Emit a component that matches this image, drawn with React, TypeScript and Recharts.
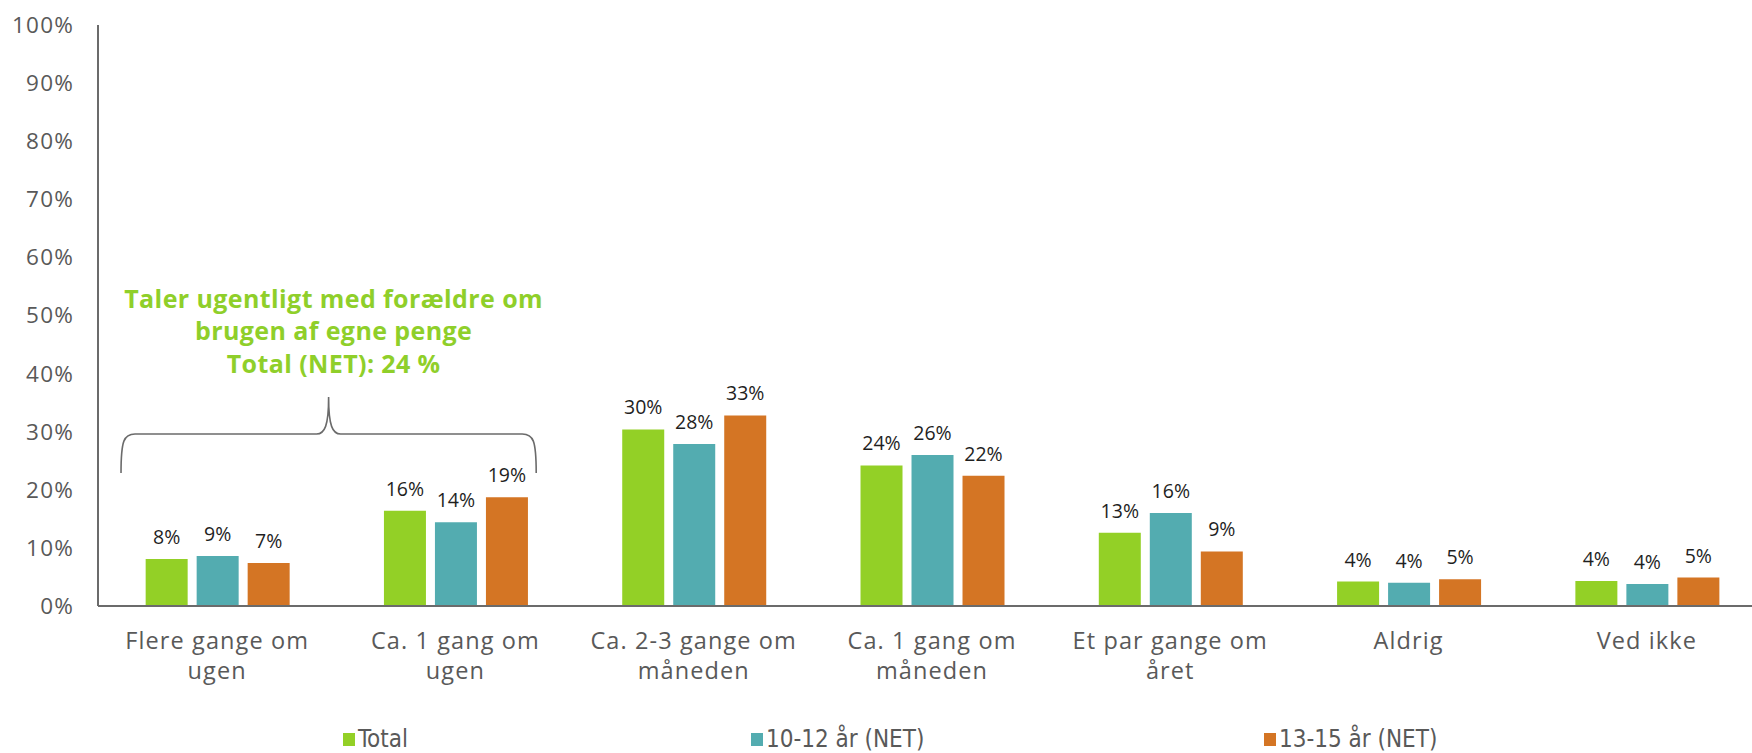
import React from 'react';
import { BarChart, Bar, XAxis, YAxis, LabelList } from 'recharts';

const categories = [
  'Flere gange om ugen',
  'Ca. 1 gang om ugen',
  'Ca. 2-3 gange om måneden',
  'Ca. 1 gang om måneden',
  'Et par gange om året',
  'Aldrig',
  'Ved ikke',
];
const categoryLines = [
  ['Flere gange om', 'ugen'],
  ['Ca. 1 gang om', 'ugen'],
  ['Ca. 2-3 gange om', 'måneden'],
  ['Ca. 1 gang om', 'måneden'],
  ['Et par gange om', 'året'],
  ['Aldrig'],
  ['Ved ikke'],
];
const totalValues = [8.1, 16.4, 30.4, 24.2, 12.6, 4.2, 4.3];
const age1012Values = [8.6, 14.4, 27.9, 26.0, 16.0, 4.0, 3.8];
const age1315Values = [7.4, 18.7, 32.8, 22.4, 9.4, 4.6, 4.9];
const yTicks = [0, 10, 20, 30, 40, 50, 60, 70, 80, 90, 100];

const series = [
  { key: 'total', name: 'Total', color: '#93D026' },
  { key: 'a1012', name: '10-12 år (NET)', color: '#53ACB0' },
  { key: 'a1315', name: '13-15 år (NET)', color: '#D47524' },
];
const annotationLines = [
  'Taler ugentligt med forældre om',
  'brugen af egne penge',
  'Total (NET): 24 %',
];

const data = categories.map((c, i) => ({
  name: c,
  total: totalValues[i],
  a1012: age1012Values[i],
  a1315: age1315Values[i],
}));

const W = 1752;
const H = 753;
const LEFT = 98;
const TOP = 25;
const X_AXIS_H = 100;
const BOTTOM = 47;
// the plot runs a little past the right edge of the picture
const CHART_W = 1766;
const band = (CHART_W - LEFT) / categories.length;

const FONT = '"Open Sans", Lato, sans-serif';

const CategoryTick = ({ x, y, payload }: any) => {
  const lines = categoryLines[payload.index] || [payload.value];
  return (
    <g>
      {lines.map((l, i) => (
        <text
          key={i}
          x={x}
          y={y + 41 + i * 30}
          textAnchor="middle"
          fill="#595959"
          fontSize={23.5}
          letterSpacing={1.1}
          fontFamily={FONT}
        >
          {l}
        </text>
      ))}
    </g>
  );
};

const Brace = () => {
  const x1 = LEFT + band * 0.0966;
  const x2 = LEFT + band * 1.839;
  const mid = (x1 + x2) / 2;
  const yh = 434;
  const yt = 397;
  const ye = 473;
  const d = `M${x1},${ye} C${x1},${yh + 6} ${x1 + 3},${yh} ${x1 + 14},${yh} L${mid - 12},${yh} C${mid - 4},${yh} ${mid},${yh - 8} ${mid},${yt} C${mid},${yh - 8} ${mid + 4},${yh} ${mid + 12},${yh} L${x2 - 14},${yh} C${x2 - 3},${yh} ${x2},${yh + 6} ${x2},${ye}`;
  return (
    <svg width={W} height={H} style={{ position: 'absolute', left: 0, top: 0, pointerEvents: 'none' }}>
      <path d={d} fill="none" stroke="#6b6b6b" strokeWidth={1.6} />
      {annotationLines.map((l, i) => (
        <text
          key={i}
          x={mid + 5}
          y={308 + i * 32.4}
          textAnchor="middle"
          fill="#8FCF2A"
          fontSize={25}
          letterSpacing={0.4}
          fontWeight={700}
          fontFamily={FONT}
        >
          {l}
        </text>
      ))}
    </svg>
  );
};

const legendLeft = [343, 751, 1264];

const App = () => {
  return (
    <div style={{ position: 'absolute', left: 0, top: 0, width: W, height: H, background: '#fff', overflow: 'hidden' }}>
      <BarChart
        width={CHART_W}
        height={H}
        data={data}
        margin={{ top: TOP, right: 0, left: 0, bottom: BOTTOM }}
        barGap={9}
        barCategoryGap="20%"
      >
        <YAxis
          width={LEFT}
          domain={[0, 100]}
          ticks={yTicks}
          tickFormatter={(v: number) => `${v}%`}
          tickLine={false}
          tickSize={0}
          tickMargin={24}
          axisLine={{ stroke: '#6b6b6b', strokeWidth: 2 }}
          tick={{ fill: '#595959', fontSize: 22.5, fontFamily: FONT, letterSpacing: 1.2 }}
          interval={0}
        />
        <XAxis
          dataKey="name"
          height={X_AXIS_H}
          tickLine={false}
          tickSize={0}
          axisLine={{ stroke: '#6b6b6b', strokeWidth: 2 }}
          tick={<CategoryTick />}
          interval={0}
        />
        {series.map((s) => (
          <Bar key={s.key} dataKey={s.key} name={s.name} fill={s.color} isAnimationActive={false}>
            <LabelList
              dataKey={s.key}
              position="top"
              offset={15}
              formatter={(v: any) => `${Math.round(Number(v))}%`}
              fill="#1f1f1f"
              fontSize={19.5}
              fontFamily={FONT}
            />
          </Bar>
        ))}
      </BarChart>
      <Brace />
      {series.map((s, i) => (
        <div
          key={s.key}
          style={{
            position: 'absolute',
            left: legendLeft[i],
            top: 726,
            height: 26,
            lineHeight: '26px',
            display: 'flex',
            alignItems: 'center',
            fontFamily: '"Liberation Sans Narrow", "DejaVu Sans Condensed", "Roboto Condensed", sans-serif',
            fontStretch: 'condensed',
            fontSize: 24,
            color: '#595959',
          }}
        >
          <span style={{ display: 'inline-block', width: 12, height: 13, background: s.color, marginRight: 3 }} />
          <span>{s.name}</span>
        </div>
      ))}
    </div>
  );
};

export default App;
